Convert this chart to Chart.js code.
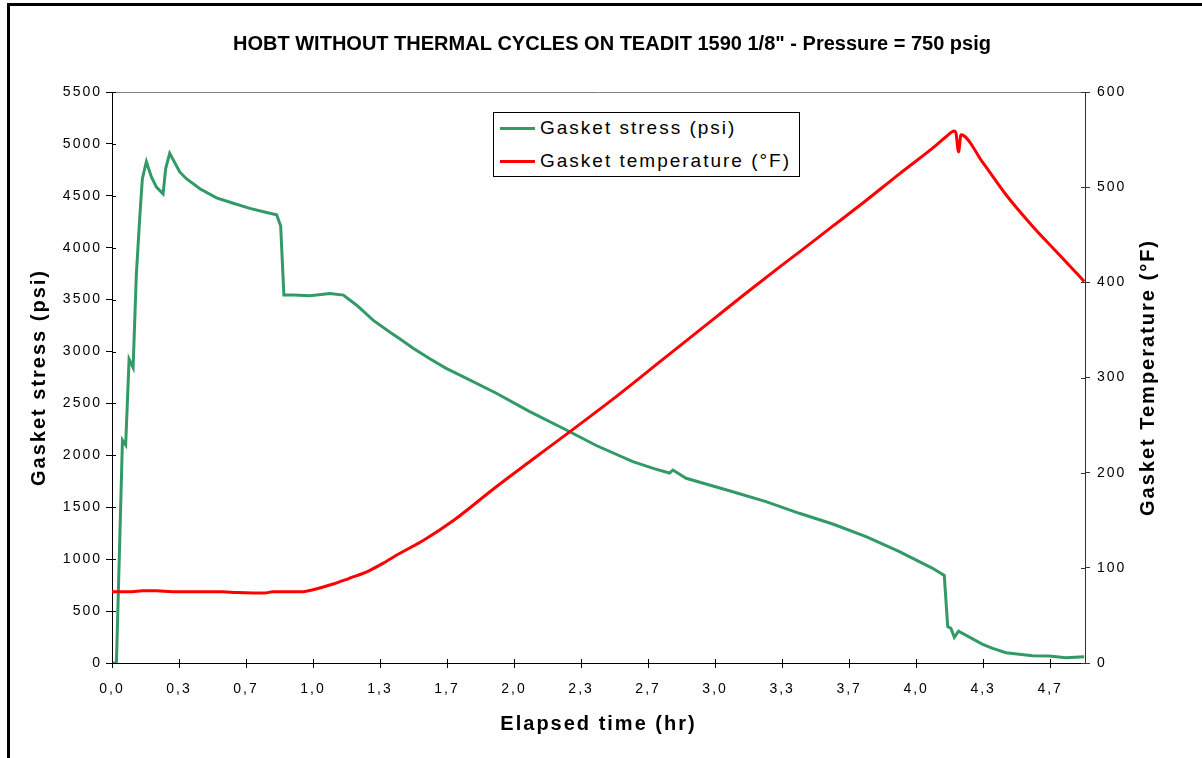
<!DOCTYPE html>
<html>
<head>
<meta charset="utf-8">
<title>HOBT without thermal cycles - Teadit 1590</title>
<script src="https://cdn.jsdelivr.net/npm/chart.js@4.4.1/dist/chart.umd.min.js"></script>
<style>
    html, body { margin: 0; padding: 0; background: #fff; overflow: hidden; }
    #wrap { position: relative; width: 1202px; height: 758px; }
    #frame { position: absolute; left: 7px; top: 3px; width: 1400px; height: 1000px;
             border-left: 3px solid #000; border-top: 3px solid #000; }
    #chart { position: absolute; left: 0; top: 0; }
    #legend { position: absolute; left: 493px; top: 112px; width: 305px; height: 63px;
              border: 1px solid #000; background: #fff; color: #000;
              font-family: 'Liberation Sans', Arial, sans-serif; font-size: 19px; letter-spacing: 2px; }
    .item { position: absolute; left: 6px; height: 24px; display: flex; align-items: center; white-space: nowrap; }
    .swatch { width: 35px; height: 3px; margin-right: 5px; }
</style>
</head>
<body>
<div id="wrap">
    <div id="frame"></div>
    <canvas id="chart" width="1202" height="758"></canvas>
    <div id="legend"></div>
</div>
<script>
// Chart data

const chartTitle = 'HOBT WITHOUT THERMAL CYCLES ON TEADIT 1590 1/8" - Pressure = 750 psig';

// Gasket stress (psi) vs elapsed time (hr)
const stressTime = [0, 0.022, 0.052, 0.068, 0.085, 0.105, 0.121, 0.138, 0.151, 0.171,
    0.196, 0.221, 0.254, 0.267, 0.287, 0.337, 0.370, 0.437, 0.520, 0.603,
    0.686, 0.769, 0.819, 0.839, 0.855, 0.902, 0.985, 1.084, 1.151, 1.217,
    1.300, 1.383, 1.433, 1.500, 1.581, 1.660, 1.746, 1.912, 2.078, 2.243,
    2.409, 2.591, 2.700, 2.773, 2.790, 2.856, 3.088, 3.253, 3.419, 3.585,
    3.751, 3.917, 4.082, 4.140, 4.157, 4.173, 4.190, 4.211, 4.331, 4.381,
    4.447, 4.579, 4.662, 4.745, 4.836];
const stressPsi = [0, 0, 2146, 2100, 2926, 2845, 3739, 4291, 4665, 4828,
    4681, 4584, 4519, 4763, 4909, 4730, 4665, 4568, 4480, 4428,
    4379, 4340, 4317, 4210, 3544, 3544, 3537, 3560, 3544, 3446,
    3300, 3186, 3121, 3030, 2930, 2840, 2758, 2598, 2421, 2261,
    2095, 1939, 1870, 1830, 1859, 1779, 1650, 1554, 1442, 1339,
    1217, 1072, 912, 843, 350, 334, 248, 306, 180, 141,
    99, 71, 67, 51, 61];

// Gasket temperature (°F) vs elapsed time (hr)
const tempTime = [0, 0.10, 0.15, 0.22, 0.30, 0.55, 0.62, 0.70, 0.76, 0.80,
    0.95, 1.00, 1.10, 1.18, 1.27, 1.35, 1.43, 1.55, 1.70, 1.91,
    2.08, 2.29, 2.49, 2.74, 2.99, 3.15, 3.32, 3.42, 3.585, 3.751,
    3.917, 4.082, 4.149, 4.190, 4.198, 4.211, 4.223, 4.331, 4.447, 4.579,
    4.712, 4.836];
const tempF = [75, 75, 76, 76, 75, 75, 74, 73.5, 73.5, 75,
    75, 77, 83, 89, 96, 105, 115, 129, 150, 185,
    212, 245, 277, 319, 361, 388, 416, 432, 459, 486,
    514, 541, 553, 559, 557, 537, 555, 526, 492, 459,
    429, 401];

// Axis ticks
const timeTicks = [0, 1/3, 2/3, 1, 4/3, 5/3, 2, 7/3, 8/3, 3, 10/3, 11/3, 4, 13/3, 14/3];
const stressTicks = [0, 500, 1000, 1500, 2000, 2500, 3000, 3500, 4000, 4500, 5000, 5500];
const tempTicks = [0, 100, 200, 300, 400, 500, 600];

const seriesLabels = ['Gasket stress (psi)', 'Gasket temperature (°F)'];
const seriesColors = ['#339966', '#ff0000'];
const axisTitles = ['Elapsed time (hr)', 'Gasket stress (psi)', 'Gasket Temperature (°F)'];

const FONT = "'Liberation Sans', Arial, sans-serif";
Chart.defaults.font.family = FONT;
Chart.defaults.color = '#000';

// tick and axis text in the reference is set a little loose
const spacingPlugin = {
    id: 'spacing',
    beforeLayout(chart) { chart.ctx.letterSpacing = '2px'; },
    beforeDraw(chart) { chart.ctx.letterSpacing = '2px'; }
};

// plot frame top line, inner half of the cross ticks, titles
const framePlugin = {
    id: 'frame',
    afterDraw(chart) {
        const ctx = chart.ctx;
        const area = chart.chartArea;
        const inner = 4;
        ctx.save();
        ctx.lineWidth = 1;
        ctx.strokeStyle = '#808080';
        ctx.beginPath();
        ctx.moveTo(area.left, area.top + 0.5);
        ctx.lineTo(area.right, area.top + 0.5);
        ctx.stroke();

        ctx.strokeStyle = '#000';
        ctx.beginPath();
        chart.scales.x.ticks.forEach(t => {
            const px = Math.round(chart.scales.x.getPixelForValue(t.value)) + 0.5;
            ctx.moveTo(px, area.bottom);
            ctx.lineTo(px, area.bottom - inner);
        });
        chart.scales.y.ticks.forEach(t => {
            const py = Math.round(chart.scales.y.getPixelForValue(t.value)) + 0.5;
            ctx.moveTo(area.left, py);
            ctx.lineTo(area.left + inner, py);
        });
        ctx.stroke();
        ctx.strokeStyle = '#333';
        ctx.beginPath();
        chart.scales.y1.ticks.forEach(t => {
            const py = Math.round(chart.scales.y1.getPixelForValue(t.value)) + 0.5;
            ctx.moveTo(area.right, py);
            ctx.lineTo(area.right - inner, py);
        });
        ctx.stroke();

        ctx.fillStyle = '#000';
        ctx.textAlign = 'center';
        ctx.textBaseline = 'middle';

        // main title, normal spacing
        ctx.letterSpacing = '0px';
        ctx.font = 'bold 20px ' + FONT;
        ctx.fillText(chartTitle, 612, 44);

        // right title reads bottom to top, like the left one
        ctx.letterSpacing = '2px';
        ctx.translate(1148, (area.top + area.bottom) / 2);
        ctx.rotate(-Math.PI / 2);
        ctx.fillText(axisTitles[2], 0, 0);
        ctx.restore();
    }
};

function toPoints(xs, ys) {
    return xs.map((x, i) => ({ x: x, y: ys[i] }));
}

const ctx = document.getElementById('chart').getContext('2d');

const chart = new Chart(ctx, {
    type: 'line',
    data: {
        datasets: [{
            label: seriesLabels[0],
            data: toPoints(stressTime, stressPsi),
            borderColor: seriesColors[0],
            borderWidth: 3,
            pointRadius: 0,
            tension: 0,
            yAxisID: 'y',
            order: 1
        }, {
            label: seriesLabels[1],
            data: toPoints(tempTime, tempF),
            borderColor: seriesColors[1],
            borderWidth: 3,
            pointRadius: 0,
            cubicInterpolationMode: 'monotone',
            yAxisID: 'y1',
            order: 0
        }]
    },
    options: {
        responsive: false,
        animation: false,
        layout: {
            padding: { left: 22, top: 92, right: 0, bottom: 0 }
        },
        plugins: {
            legend: { display: false },
            tooltip: { enabled: false },
            title: { display: false }
        },
        scales: {
            x: {
                type: 'linear',
                min: 0,
                max: 4.84,
                afterBuildTicks: (scale) => { scale.ticks = timeTicks.map(v => ({ value: v })); },
                afterFit: (scale) => { scale.height = 95; },
                ticks: {
                    font: { size: 14 },
                    padding: 13,
                    maxRotation: 0,
                    autoSkip: false,
                    callback: (v) => v.toFixed(1).replace('.', ',')
                },
                grid: { drawOnChartArea: false, tickLength: 5, color: '#000' },
                border: { color: '#000' },
                title: {
                    display: true,
                    text: axisTitles[0],
                    font: { size: 20, weight: 'bold' },
                    padding: { top: 22, bottom: 22 }
                }
            },
            y: {
                position: 'left',
                min: 0,
                max: 5500,
                afterBuildTicks: (scale) => { scale.ticks = stressTicks.map(v => ({ value: v })); },
                afterFit: (scale) => { scale.width = 90; },
                ticks: { font: { size: 14 }, padding: 4, callback: (v) => String(v) },
                grid: { drawOnChartArea: false, tickLength: 6, color: '#000' },
                border: { color: '#000' },
                title: {
                    display: true,
                    text: axisTitles[1],
                    font: { size: 20, weight: 'bold' },
                    padding: { top: 5, bottom: 0 }
                }
            },
            y1: {
                position: 'right',
                min: 0,
                max: 600,
                afterBuildTicks: (scale) => { scale.ticks = tempTicks.map(v => ({ value: v })); },
                afterFit: (scale) => { scale.width = 117; },
                ticks: { font: { size: 14 }, padding: 7, callback: (v) => String(v) },
                grid: { drawOnChartArea: false, tickLength: 5, color: '#333' },
                border: { color: '#333' }
            }
        }
    },
    plugins: [spacingPlugin, framePlugin]
});

// HTML legend built from the datasets
const legendBox = document.getElementById('legend');
chart.data.datasets.forEach((ds, i) => {
    const item = document.createElement('div');
    item.className = 'item';
    item.style.top = (3 + i * 33) + 'px';
    const sw = document.createElement('span');
    sw.className = 'swatch';
    sw.style.background = ds.borderColor;
    const txt = document.createElement('span');
    txt.textContent = ds.label;
    item.appendChild(sw);
    item.appendChild(txt);
    legendBox.appendChild(item);
});
</script>
</body>
</html>
